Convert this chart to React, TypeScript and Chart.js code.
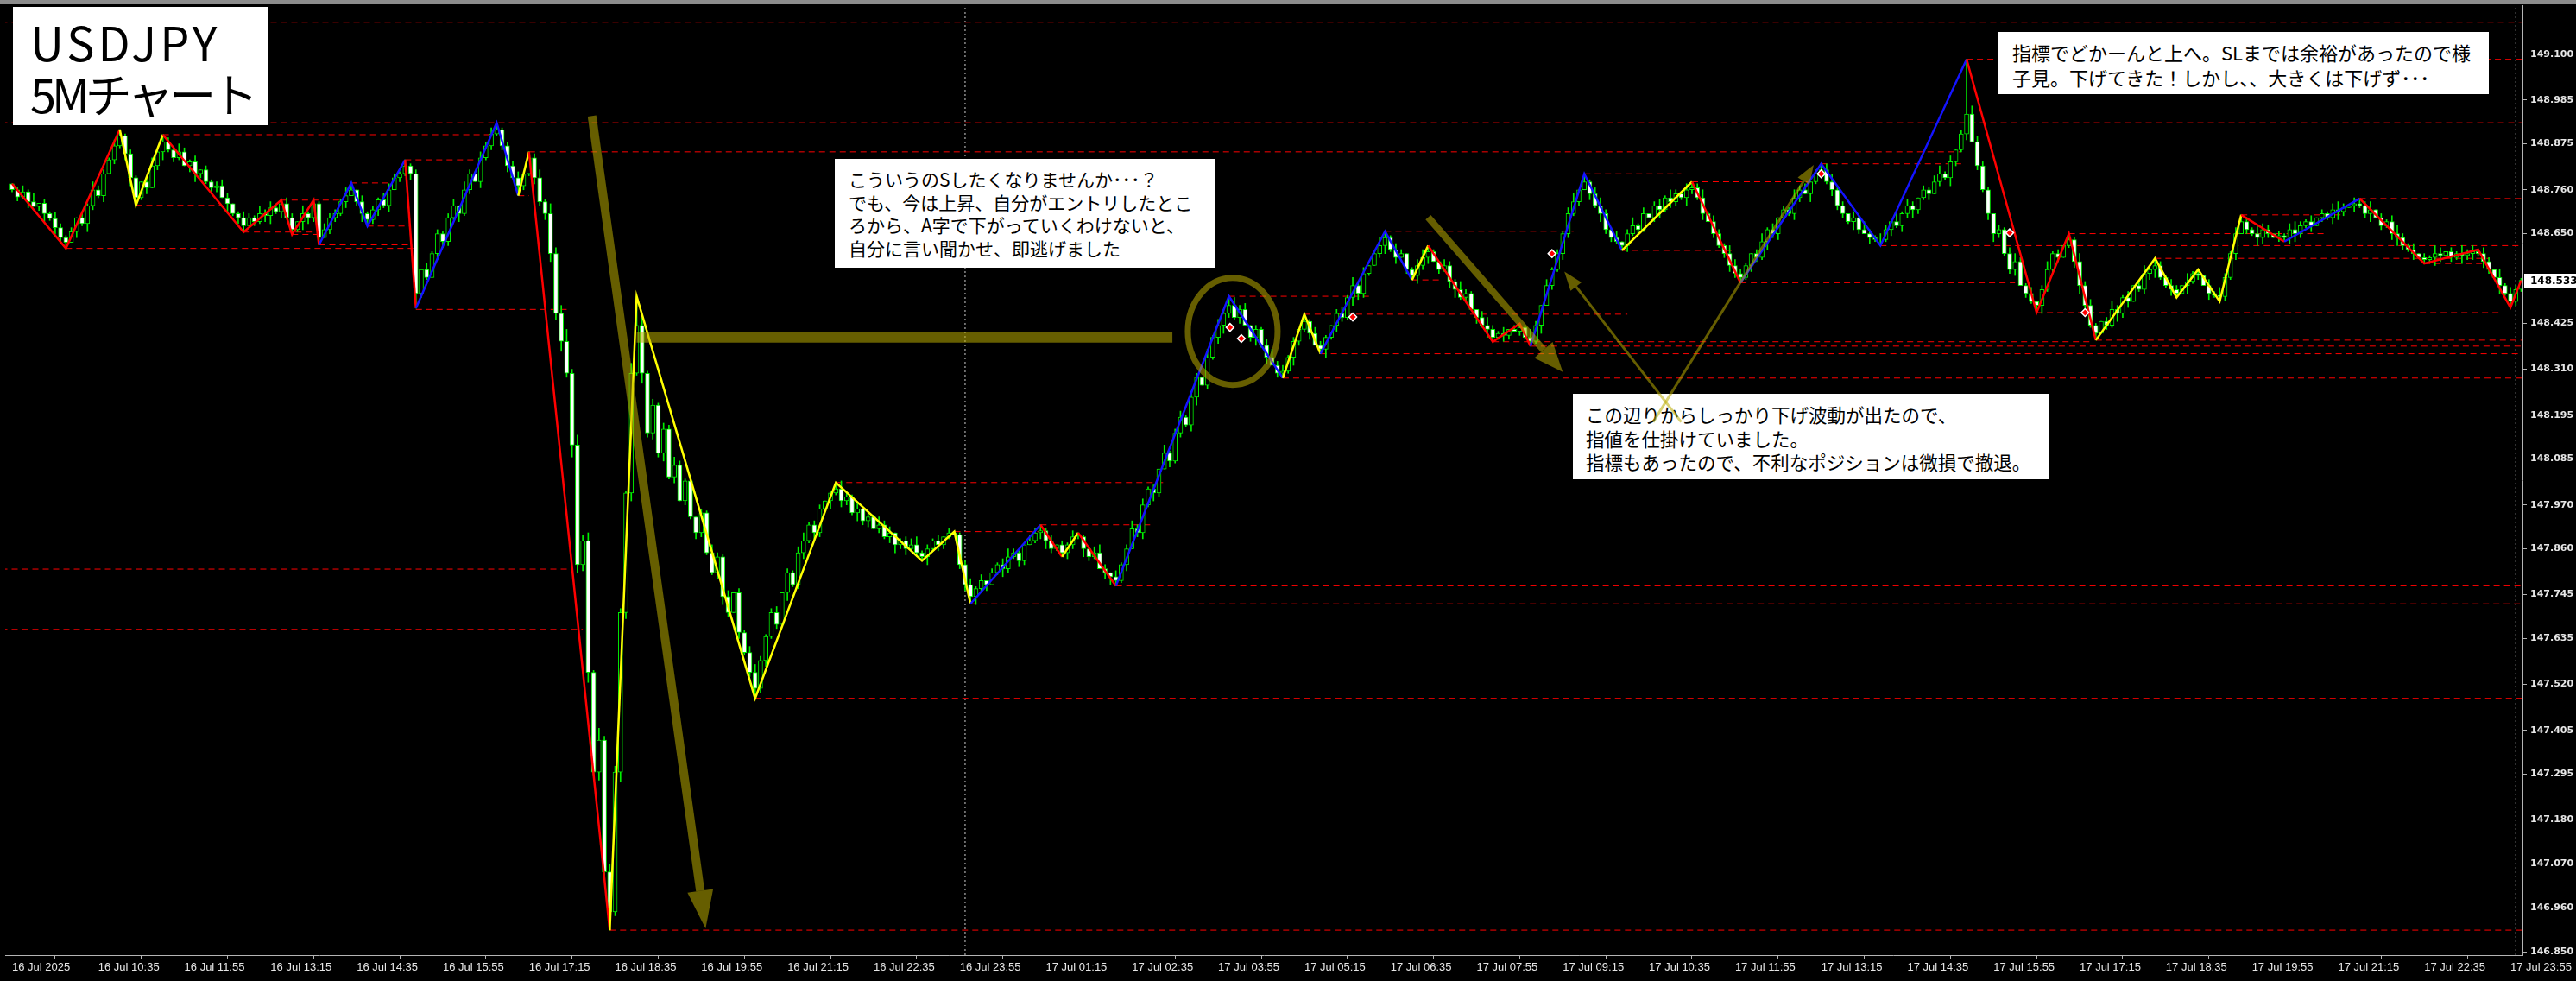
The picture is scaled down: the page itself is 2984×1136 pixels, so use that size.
import React, { useEffect, useRef } from "react";
import { Chart, registerables } from "chart.js";

Chart.register(...registerables);

// ---------- data (prices: 148 + value/1000) ----------
const BASE_PRICE = 148;
const FIRST_OPEN = 148.775;
const CLOSES = [
  760, 742, 755, 730, 718, 726, 700, 688, 665, 640,
  628, 655, 690, 675, 720, 760, 745, 800, 835, 870,
  895, 850, 790, 740, 780, 765, 820, 855, 880, 860,
  840, 855, 820, 830, 800, 810, 780, 765, 770, 740,
  725, 700, 690, 670, 690, 680, 700, 695, 715, 705,
  725, 690, 660, 680, 700, 690, 725, 640, 660, 690,
  700, 730, 745, 760, 730, 700, 685, 710, 735, 720,
  760, 790, 800, 820, 800, 500, 560, 540, 600, 650,
  630, 690, 720, 700, 760, 800, 780, 840, 870, 900,
  910, 870, 820, 790, 770, 800, 840, 790, 730, 700,
  600, 450, 380, 300, 120, -180, -120, -450, -700, -620,
  -950, -1050, -700, -300, 0, 300, 420, 300, 150, 220,
  100, 160, 40, 70, -20, 30, -60, -100, -50, -150,
  -200, -160, -260, -300, -250, -350, -400, -450, -490, -420,
  -360, -300, -330, -250, -200, -230, -150, -120, -80, -100,
  -40, -20, 0, 10, -20, -10, -50, -40, -70, -60,
  -90, -80, -110, -100, -130, -120, -140, -130, -150, -160,
  -140, -120, -130, -110, -100, -105, -180, -230, -260, -240,
  -220, -230, -200, -180, -190, -160, -150, -170, -130, -120,
  -100, -95, -120, -140, -130, -150, -130, -110, -110, -140,
  -160, -150, -190, -200, -210, -220, -180, -140, -90, -100,
  -30, 10, 0, 60, 100, 80, 150, 190, 170, 240,
  290, 270, 340, 390, 420, 450, 470, 440, 460, 420,
  390, 410, 370, 340, 320, 300, 305, 340, 380, 410,
  430, 400, 370, 360, 390, 420, 450, 440, 490, 520,
  500, 550, 570, 600, 620, 640, 610, 590, 600, 560,
  545, 570, 590, 605, 580, 560, 570, 530, 510, 490,
  500, 460, 440, 420, 410, 390, 400, 395, 410, 405,
  415, 390, 380, 420, 470, 520, 560, 600, 650, 700,
  730, 760, 780, 750, 720, 700, 660, 640, 630, 620,
  650, 670, 660, 700, 690, 720, 710, 740, 730, 750,
  740, 760, 765, 740, 700, 680, 650, 620, 600, 570,
  550, 540, 570, 600, 590, 630, 660, 650, 690, 710,
  700, 740, 760, 750, 780, 800, 810, 780, 760, 720,
  700, 680, 690, 660, 650, 640, 635, 635, 660, 680,
  670, 700, 720, 710, 740, 760, 750, 780, 800, 790,
  830, 860, 900, 950, 880, 820, 760, 700, 650, 660,
  600, 560, 580, 520, 500, 480, 470, 510, 560, 600,
  590, 620, 635, 580, 520, 470, 420, 400, 430, 420,
  460, 450, 490, 480, 520, 510, 550, 560, 570, 540,
  520, 510, 500, 520, 530, 550, 545, 520, 500, 495,
  492, 540, 600, 650, 680, 660, 650, 640, 660, 650,
  640, 645, 640, 660, 650, 670, 680, 670, 690, 700,
  690, 710, 705, 715, 720, 725, 720, 700, 710, 690,
  670, 680, 650, 640, 620, 610, 600, 590, 585, 590,
  600, 595, 605, 590, 600, 595, 600, 605, 600, 580,
  560, 540, 520, 500, 480, 510, 533,
];
// wick sizes, one digit per bar, in units of WICK_UNIT
const WICK_UNIT = 0.005;
const WICK_UP =
  "2131402132 1203142213 3121024132 1421302123 2013214231 1320412132 2142031213 3214120312 1230421323 4122301241 " +
  "5346253416 2432152413 1324213021 4213021342 1230213412 2013421302 1423012341 2130241231 3021342103 2413021321 " +
  "1342031242 3120412313 2041321423 0213423120 4132102314 2301421320 1342103214 2103421302 3142031213 4021342130 " +
  "2413023142 1302413214 3210241302 1423021341 2031421320 4132021341 3021432102 1342130241 2031423102 4213024132 " +
  "1320412031 4213021432 0213421302 1342031240 2134213021 4302142313 2041321320";
const WICK_DOWN =
  "1213024132 2031421302 1342130241 2103421320 4132021341 3021432102 2130241231 3021342103 3214120312 1230421323 " +
  "4352643524 3625341523 2413021321 1342031242 3120412313 2041321423 0213423120 4132102314 2301421320 1342103214 " +
  "2103421302 3142031213 4021342130 2413023142 1302413214 3210241302 1423021341 2031421320 2131402132 1203142213 " +
  "3121024132 1421302123 2013214231 1320412132 2142031213 1324213021 4213021342 1230213412 2013421302 1423012341 " +
  "1320412031 4213021432 0213421302 1342031240 2134213021 4302142313 2041321320";

// zigzag swing points: [bar, value]
const SWING_BARS = [
  0, 10, 20, 23, 28, 43, 50, 52, 56, 57, 63, 66, 73, 75, 90, 94, 96, 111, 116, 138,
  153, 169, 175, 178, 191, 195, 198, 205, 226, 236, 240, 243, 255, 260, 263, 275, 280, 282, 292, 299,
  312, 321, 336, 347, 363, 376, 382, 387, 398, 402, 406, 410, 414, 422, 436, 448, 458, 464, 466,
];
const SWING_VALUES = [
  775, 613, 911, 721, 898, 654, 734, 648, 734, 622, 777, 669, 835, 463, 928, 745, 855, -1096, 493, -515,
  26, -170, -97, -278, -80, -160, -100, -233, 493, 288, 448, 349, 656, 534, 620, 379, 424, 368, 800, 608,
  780, 527, 825, 620, 1087, 452, 650, 383, 588, 490, 560, 480, 697, 630, 738, 575, 610, 465, 533,
];
// segment colours: r = red, y = yellow, b = blue
const SWING_COLORS = "rryyrrrrrbbbrbbyryyyyyybryrbbyybbyrrrbbyrbbbrrryyyyyrbrrrr";

// horizontal dashed levels: price, from bar, to bar
const LEVEL_PRICES = [
  149.18, 149.087, 148.928, 148.898, 148.855, 148.835, 148.825, 148.8, 148.78, 148.777,
  148.745, 148.738, 148.734, 148.721, 148.697, 148.669, 148.656, 148.654, 148.65, 148.648,
  148.622, 148.62, 148.613, 148.608, 148.588, 148.575, 148.534, 148.527, 148.493, 148.46,
  148.452, 148.448, 148.383, 148.379, 148.368, 148.349, 148.288, 148.026, 147.92, 147.903,
  147.809, 147.767, 147.722, 147.658, 147.485, 146.904,
];
const LEVEL_FROM = [
  -2, 363, -2, 28, 96, 73, 336, 292, 312, 63,
  94, 436, 50, 23, 414, 66, 255, 43, 382, 52,
  57, 347, 10, 299, 398, 448, 260, 321, 226, 75,
  376, 240, 387, 275, 282, 243, 236, 153, 191, 175,
  -2, 205, 178, -2, 138, 111,
];
const LEVEL_TO = [
  467, 467, 467, 89, 362, 86, 362, 310, 334, 71,
  96, 467, 62, 39, 433, 74, 290, 56, 430, 57,
  74, 467, 74.5, 320, 460, 460, 265, 372, 252, 103,
  462, 300, 467, 386, 467, 467, 467, 214, 212, 191,
  104, 467, 467, 106, 467, 467,
];

const DAY_SEPARATORS = [177, 465];
const MARKER_BARS = [226.2, 228.3, 249, 286, 336, 371, 385];
const MARKER_PRICES = [148.415, 148.387, 148.441, 148.6, 148.8, 148.652, 148.452];

const X_TICK_BARS = [
  0, 16, 32, 48, 64, 80, 96, 112, 128, 144, 160, 176, 192, 208, 224,
  240, 256, 272, 288, 304, 320, 336, 352, 368, 384, 400, 416, 432, 448, 464,
];
const X_TICK_LABELS = [
  "16 Jul 2025", "16 Jul 10:35", "16 Jul 11:55", "16 Jul 13:15", "16 Jul 14:35", "16 Jul 15:55",
  "16 Jul 17:15", "16 Jul 18:35", "16 Jul 19:55", "16 Jul 21:15", "16 Jul 22:35", "16 Jul 23:55",
  "17 Jul 01:15", "17 Jul 02:35", "17 Jul 03:55", "17 Jul 05:15", "17 Jul 06:35", "17 Jul 07:55",
  "17 Jul 09:15", "17 Jul 10:35", "17 Jul 11:55", "17 Jul 13:15", "17 Jul 14:35", "17 Jul 15:55",
  "17 Jul 17:15", "17 Jul 18:35", "17 Jul 19:55", "17 Jul 21:15", "17 Jul 22:35", "17 Jul 23:55",
];
const Y_TICKS = [
  149.1, 148.985, 148.875, 148.76, 148.65, 148.425, 148.31, 148.195, 148.085, 147.97,
  147.86, 147.745, 147.635, 147.52, 147.405, 147.295, 147.18, 147.07, 146.96, 146.85,
];

// annotation shapes in data coordinates (bar, price)
const ARROWS = [
  { from: [107.7, 148.945], to: [128.8, 146.908], width: 10, headLen: 44, headW: 30 },
  { from: [263, 148.691], to: [288, 148.303], width: 8, headLen: 34, headW: 28 },
  { from: [310, 148.178], to: [288.3, 148.555], width: 3, headLen: 22, headW: 16 },
  { from: [304.8, 148.178], to: [334.6, 148.822], width: 3, headLen: 22, headW: 16 },
];
const HBAR = { from: [116, 148.39], to: [215.5, 148.39], width: 12 };
const ELLIPSE = { center: [226.7, 148.405], rx: 52, ry: 62, width: 7 };

const X_MIN = -1.28;
const X_MAX = 466.24;
const Y_MIN = 146.8414;
const Y_MAX = 149.2227;

const GREEN = "#00f000";
const OLIVE = "rgba(185,172,0,0.55)";
const ZZ = { r: "#ff0000", y: "#ffff00", b: "#1414ff" } as Record<string, string>;

export default function App() {
  const canvasRef = useRef<HTMLCanvasElement>(null);
  const overlayRef = useRef<HTMLCanvasElement>(null);

  useEffect(() => {
    document.body.style.margin = "0";
    document.body.style.background = "#000";
    const up = WICK_UP.replace(/\s/g, "");
    const dn = WICK_DOWN.replace(/\s/g, "");
    const p = (v: number) => BASE_PRICE + v / 1000;

    const swingMap = new Map<number, number>();
    SWING_BARS.forEach((b, i) => swingMap.set(b, p(SWING_VALUES[i])));

    const bodies: any[] = [];
    const wicks: any[] = [];
    const bodyColors: string[] = [];
    let prev = FIRST_OPEN;
    CLOSES.forEach((cv, i) => {
      const o = prev;
      const c = p(cv);
      let hi = Math.max(o, c) + Number(up[i] || 0) * WICK_UNIT;
      let lo = Math.min(o, c) - Number(dn[i] || 0) * WICK_UNIT;
      if (swingMap.has(i) && i < CLOSES.length - 1) {
        const s = swingMap.get(i)!;
        if (s >= Math.max(o, c)) hi = s;
        else if (s <= Math.min(o, c)) lo = s;
      }
      bodies.push({ x: i, y: [o, c] });
      wicks.push({ x: i, y: [lo, hi] });
      bodyColors.push(c < o ? "#ffffff" : "#000000");
      prev = c;
    });
    const lastClose = p(CLOSES[CLOSES.length - 1]);

    const levelSets = LEVEL_PRICES.map((lp, i) => ({
      type: "line",
      data: [
        { x: LEVEL_FROM[i], y: lp },
        { x: LEVEL_TO[i], y: lp },
      ],
      borderColor: "#ff0000",
      borderWidth: 1,
      borderDash: [7, 5],
      pointRadius: 0,
      order: 10,
    }));
    const sepSets = DAY_SEPARATORS.map((b) => ({
      type: "line",
      data: [
        { x: b, y: Y_MIN },
        { x: b, y: Y_MAX },
      ],
      borderColor: "#d0d0d0",
      borderWidth: 1,
      borderDash: [2, 3],
      pointRadius: 0,
      order: 11,
    }));

    const zigzag = {
      type: "line",
      data: SWING_BARS.map((b, i) => ({ x: b, y: p(SWING_VALUES[i]) })),
      borderColor: "#ff0000",
      borderWidth: 2.5,
      pointRadius: 0,
      tension: 0,
      order: 1,
      segment: {
        borderColor: (ctx: any) => ZZ[SWING_COLORS[ctx.p0DataIndex]] || "#ff0000",
      },
    };
    const markers = {
      type: "line",
      showLine: false,
      data: MARKER_BARS.map((b, i) => ({ x: b, y: MARKER_PRICES[i] })),
      pointStyle: "rectRot",
      pointRadius: 4.5,
      pointBackgroundColor: "#ff0000",
      pointBorderColor: "#ffffff",
      pointBorderWidth: 1.5,
      order: 0,
    };

    const pricePlugin = {
      id: "priceLabel",
      afterDraw(chart: any) {
        const { ctx, chartArea } = chart;
        const y = chart.scales.y;
        const py = Math.round(y.getPixelForValue(lastClose));
        ctx.save();
        ctx.fillStyle = "#ffffff";
        ctx.fillRect(chartArea.right + 2, py - 8, 62, 17);
        ctx.fillStyle = "#000000";
        ctx.font = 'bold 12px "DejaVu Sans"';
        ctx.textBaseline = "middle";
        ctx.textAlign = "left";
        ctx.fillText(lastClose.toFixed(3), chartArea.right + 9, py + 1);
        ctx.restore();
      },
    };

    const overlayPlugin = {
      id: "olive",
      afterDraw(chart: any) {
        const oc = overlayRef.current;
        if (!oc) return;
        const ctx = oc.getContext("2d")!;
        ctx.clearRect(0, 0, oc.width, oc.height);
        const xs = chart.scales.x;
        const ys = chart.scales.y;
        const X = (b: number) => xs.getPixelForValue(b);
        const Y = (v: number) => ys.getPixelForValue(v);
        ctx.save();
        ctx.strokeStyle = OLIVE;
        ctx.fillStyle = OLIVE;
        ctx.lineCap = "butt";
        ctx.lineWidth = HBAR.width;
        ctx.beginPath();
        ctx.moveTo(X(HBAR.from[0]), Y(HBAR.from[1]));
        ctx.lineTo(X(HBAR.to[0]), Y(HBAR.to[1]));
        ctx.stroke();
        ctx.lineWidth = ELLIPSE.width;
        ctx.beginPath();
        ctx.ellipse(X(ELLIPSE.center[0]), Y(ELLIPSE.center[1]), ELLIPSE.rx, ELLIPSE.ry, 0, 0, Math.PI * 2);
        ctx.stroke();
        ARROWS.forEach((a) => {
          const x1 = X(a.from[0]);
          const y1 = Y(a.from[1]);
          const x2 = X(a.to[0]);
          const y2 = Y(a.to[1]);
          const ang = Math.atan2(y2 - y1, x2 - x1);
          const bx = x2 - Math.cos(ang) * a.headLen;
          const by = y2 - Math.sin(ang) * a.headLen;
          ctx.lineWidth = a.width;
          ctx.beginPath();
          ctx.moveTo(x1, y1);
          ctx.lineTo(bx, by);
          ctx.stroke();
          ctx.beginPath();
          ctx.moveTo(x2, y2);
          ctx.lineTo(bx + (Math.sin(ang) * a.headW) / 2, by - (Math.cos(ang) * a.headW) / 2);
          ctx.lineTo(bx - (Math.sin(ang) * a.headW) / 2, by + (Math.cos(ang) * a.headW) / 2);
          ctx.closePath();
          ctx.fill();
        });
        ctx.restore();
      },
    };

    const chart = new Chart(canvasRef.current!, {
      type: "line",
      data: {
        datasets: [
          ...sepSets,
          ...levelSets,
          {
            type: "bar",
            data: wicks,
            grouped: false,
            barThickness: 1,
            backgroundColor: GREEN,
            borderWidth: 0,
            order: 4,
          },
          {
            type: "bar",
            data: bodies,
            grouped: false,
            barThickness: 5,
            backgroundColor: bodyColors,
            borderColor: GREEN,
            borderWidth: 1,
            borderSkipped: false,
            order: 3,
          },
          zigzag,
          markers,
        ] as any,
      },
      options: {
        responsive: false,
        animation: false,
        devicePixelRatio: 1,
        events: [],
        layout: { padding: 0 },
        plugins: { legend: { display: false }, tooltip: { enabled: false } },
        scales: {
          x: {
            type: "linear",
            min: X_MIN,
            max: X_MAX,
            offset: false,
            grid: { display: true, drawOnChartArea: false, drawTicks: true, tickLength: 4, color: "#b4b4b4" },
            border: { display: true, color: "#b4b4b4", width: 1 },
            ticks: {
              autoSkip: false,
              maxRotation: 0,
              minRotation: 0,
              align: "start",
              padding: 3,
              color: "#e6e6e6",
              font: { family: '"Liberation Sans", Arial, sans-serif', size: 13 },
              callback: (_v: any, i: number) => X_TICK_LABELS[i],
            },
            afterBuildTicks: (s: any) => {
              s.ticks = X_TICK_BARS.map((v) => ({ value: v }));
            },
            afterFit: (s: any) => {
              s.height = 30;
              s.paddingLeft = 0;
              s.paddingRight = 0;
            },
          },
          y: {
            type: "linear",
            position: "right",
            min: Y_MIN,
            max: Y_MAX,
            grid: { display: true, drawOnChartArea: false, drawTicks: true, tickLength: 5, color: "#b4b4b4" },
            border: { display: true, color: "#b4b4b4", width: 1 },
            ticks: {
              autoSkip: false,
              padding: 4,
              color: "#e6e6e6",
              font: { family: '"DejaVu Sans", sans-serif', size: 11, weight: "bold" },
              callback: (v: any) => Number(v).toFixed(3),
            },
            afterBuildTicks: (s: any) => {
              s.ticks = Y_TICKS.map((v) => ({ value: v }));
            },
            afterFit: (s: any) => {
              s.width = 62;
              s.paddingTop = 0;
              s.paddingBottom = 0;
            },
          },
        },
      } as any,
      plugins: [pricePlugin, overlayPlugin],
    } as any);
    return () => chart.destroy();
  }, []);

  const cjk = '"Noto Sans CJK JP", "Noto Sans", sans-serif';
  const box = (left: number, top: number, w: number, h: number): React.CSSProperties => ({
    position: "absolute",
    left,
    top,
    width: w,
    height: h,
    background: "#ffffff",
    color: "#000000",
    boxSizing: "border-box",
    whiteSpace: "pre",
    fontFamily: cjk,
    zIndex: 2,
  });

  return (
    <div style={{ position: "fixed", left: 0, top: 0, width: 2984, height: 1136, background: "#000", overflow: "hidden" }}>
      <canvas
        ref={canvasRef}
        width={2984}
        height={1136}
        style={{ position: "absolute", left: 0, top: 0, width: 2984, height: 1136, zIndex: 1 }}
      />
      <div style={{ position: "absolute", left: 0, top: 0, width: 2984, height: 5, background: "#8c8c8c", zIndex: 2 }} />
      <div style={{ ...box(15, 8, 295, 137), padding: "10px 0 0 20px", fontSize: 54, lineHeight: "60px" }}>
        <div style={{ letterSpacing: 4 }}>USDJPY</div>
        <div style={{ letterSpacing: -5 }}>5Mチャート</div>
      </div>
      <div style={{ ...box(967, 184, 441, 126), padding: "10px 0 0 16px", fontSize: 21, lineHeight: "26.7px" }}>
        {"こういうのSしたくなりませんか･･･？\nでも、今は上昇、自分がエントリしたとこ\nろから、A字で下がっていくわけないと、\n自分に言い聞かせ、即逃げました"}
      </div>
      <div style={{ ...box(1822, 456, 551, 99), padding: "10px 0 0 15px", fontSize: 21.5, lineHeight: "27.5px" }}>
        {"この辺りからしっかり下げ波動が出たので、\n指値を仕掛けていました。\n指標もあったので、不利なポジションは微損で撤退。"}
      </div>
      <div style={{ ...box(2314, 37, 569, 72), padding: "9px 0 0 17px", fontSize: 22, lineHeight: "29px" }}>
        {"指標でどかーんと上へ。SLまでは余裕があったので様\n子見。下げてきた！しかし、、大きくは下げず･･･"}
      </div>
      <canvas
        ref={overlayRef}
        width={2984}
        height={1136}
        style={{ position: "absolute", left: 0, top: 0, width: 2984, height: 1136, zIndex: 3, pointerEvents: "none" }}
      />
    </div>
  );
}
